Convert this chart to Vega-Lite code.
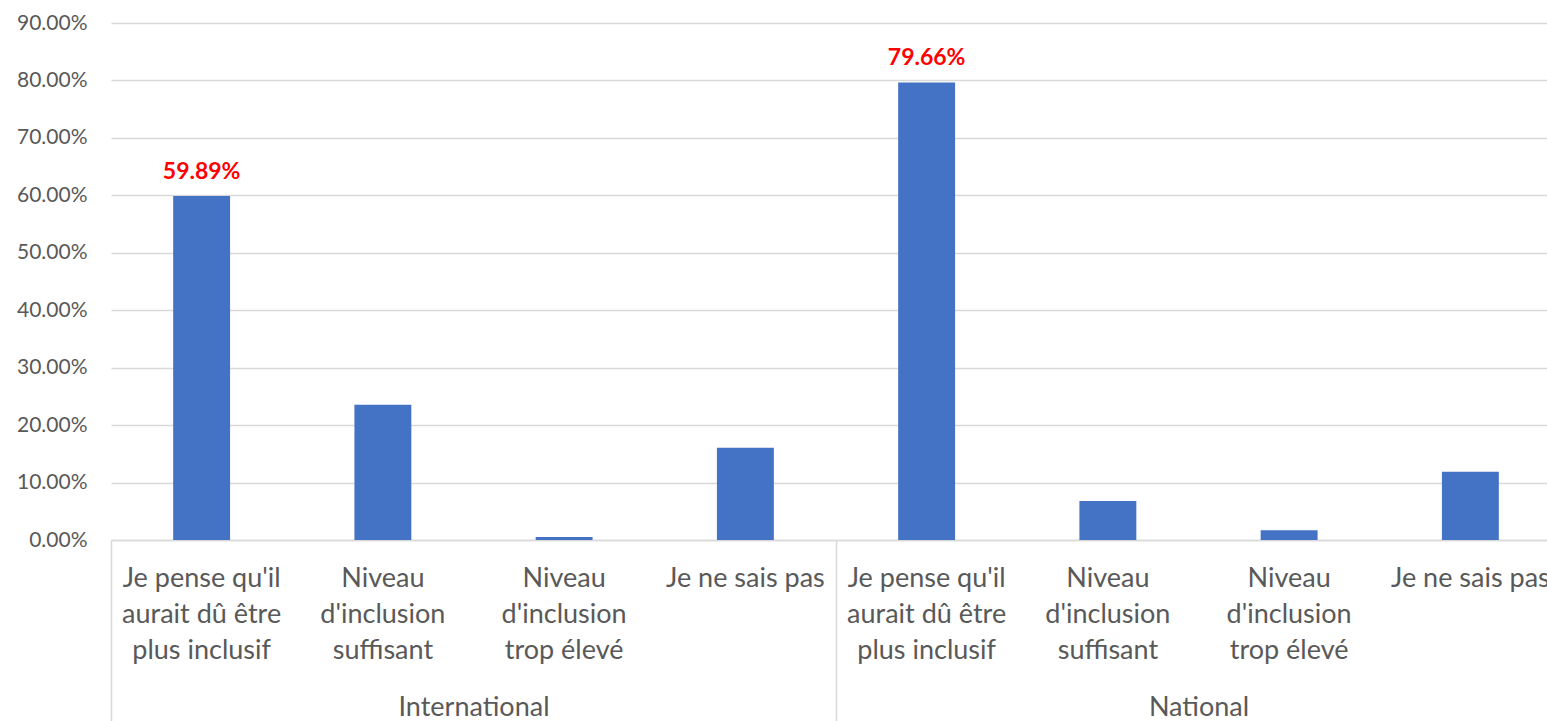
{
  "$schema": "https://vega.github.io/schema/vega-lite/v6.json",
  "width": 1436,
  "height": 517,
  "autosize": {"type": "none"},
  "padding": {"left": 111, "top": 23, "right": 0, "bottom": 181},
  "background": "white",
  "config": {"font": "Lato", "view": {"stroke": null}},
  "data": {
    "values": [
      {"group": "International", "answer": "Je pense qu'il\naurait dû être\nplus inclusif", "value": 0.5989},
      {"group": "International", "answer": "Niveau\nd'inclusion\nsuffisant", "value": 0.2353},
      {"group": "International", "answer": "Niveau\nd'inclusion\ntrop élevé", "value": 0.0053},
      {"group": "International", "answer": "Je ne sais pas", "value": 0.1604},
      {"group": "National", "answer": "Je pense qu'il\naurait dû être\nplus inclusif", "value": 0.7966},
      {"group": "National", "answer": "Niveau\nd'inclusion\nsuffisant", "value": 0.0678},
      {"group": "National", "answer": "Niveau\nd'inclusion\ntrop élevé", "value": 0.0169},
      {"group": "National", "answer": "Je ne sais pas", "value": 0.1186}
    ]
  },
  "encoding": {
    "x": {
      "field": "group",
      "type": "nominal",
      "sort": ["International", "National"],
      "scale": {"range": [0, 1450], "paddingInner": 0, "paddingOuter": 0},
      "axis": {
        "title": null,
        "labelAngle": 0,
        "domainColor": "#d9d9d9",
        "domainWidth": 1.5,
        "tickBand": "extent",
        "tickSize": 181,
        "tickColor": "#d9d9d9",
        "tickWidth": 1.5,
        "labelFontSize": 27,
        "labelColor": "#595959",
        "labelPadding": -27,
        "labelBaseline": "top"
      }
    },
    "xOffset": {
      "field": "answer",
      "type": "nominal",
      "sort": ["Je pense qu'il\naurait dû être\nplus inclusif", "Niveau\nd'inclusion\nsuffisant", "Niveau\nd'inclusion\ntrop élevé", "Je ne sais pas"],
      "scale": {"paddingInner": 0.686, "paddingOuter": 0.343}
    }
  },
  "layer": [
    {
      "mark": {"type": "bar", "color": "#4472c4", "clip": true},
      "encoding": {
        "y": {
          "field": "value",
          "type": "quantitative",
          "scale": {"domain": [0, 0.9], "nice": false},
          "axis": {
            "title": null,
            "values": [0, 0.1, 0.2, 0.3, 0.4, 0.5, 0.6, 0.7, 0.8, 0.9],
            "format": ".2%",
            "domain": false,
            "ticks": false,
            "labelFontSize": 21,
            "labelColor": "#595959",
            "labelPadding": 24,
            "gridColor": "#d9d9d9",
            "gridWidth": 1.5
          }
        }
      }
    },
    {
      "transform": [{"filter": "datum.answer == \"Je pense qu'il\\naurait dû être\\nplus inclusif\""}],
      "mark": {"type": "text", "color": "#ff0000", "fontWeight": "bold", "fontSize": 23, "baseline": "bottom", "dy": -12},
      "encoding": {
        "y": {"field": "value", "type": "quantitative"},
        "text": {"field": "value", "type": "quantitative", "format": ".2%"}
      }
    },
    {
      "mark": {"type": "text", "color": "#595959", "fontSize": 27, "baseline": "top", "dy": 26, "lineBreak": "\n", "lineHeight": 36},
      "encoding": {
        "y": {"datum": 0},
        "text": {"field": "answer"}
      }
    }
  ]
}
